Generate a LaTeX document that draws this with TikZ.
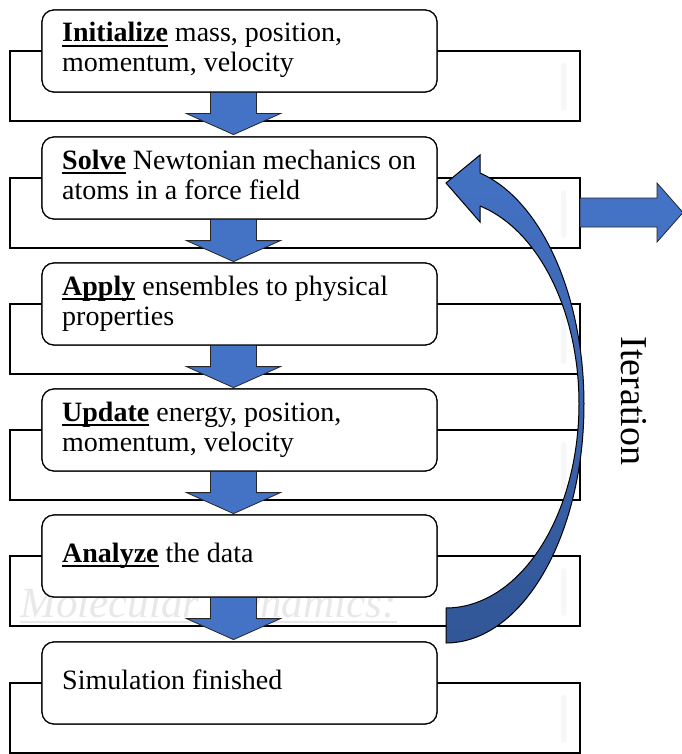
\documentclass[tikz,border=0pt]{standalone}
\usepackage{fontspec}
\setmainfont{Liberation Serif}
\newfontfamily\stepfont{Liberation Serif}
\definecolor{mdblue}{RGB}{68,114,196}
\definecolor{mddark}{RGB}{50,86,150}
\newcommand\ulword[1]{\setbox0\hbox{#1}\rlap{\rule[-5pt]{\wd0}{1.8pt}}\box0\relax}
\begin{document}
\begin{tikzpicture}[x=1pt,y=-1pt,
  backrect/.style={draw=black, line width=1.8pt, fill=white, minimum width=570pt, minimum height=70pt, inner sep=0pt, outer sep=0pt},
  stepbox/.style={draw=black, line width=1.2pt, fill=white, rounded corners=12pt, minimum width=395pt, minimum height=82pt, inner sep=0pt},
  steptext/.style={anchor=west, inner sep=0pt, align=left, font=\stepfont\fontsize{28}{30}\selectfont},
  faintbar/.style={fill=black!3, draw=none, rounded corners=2.5pt},
  flowarrow/.style={draw=black!85, line width=0.8pt, fill=mdblue, line join=miter},
  downarr/.pic={\path[flowarrow] (-23,-3) -- (-23,21) -- (-47,21) -- (0,42) -- (47,21) -- (23,21) -- (23,-3) -- cycle;}
]
\useasboundingbox (0,0) rectangle (681,754);
\fill[white] (0,0) rectangle (681,754);

% back rectangles
\node[backrect] (r1) at (295,86)  {};
\node[backrect] (r2) at (295,213) {};
\node[backrect] (r3) at (295,339) {};
\node[backrect] (r4) at (295,465) {};
\node[backrect] (r5) at (295,591) {};
\node[backrect] (r6) at (295,718) {};

% faint bars
\foreach \t in {10,137,263,389,515,642}{
  \path[faintbar] (561,\t+53) rectangle (566,\t+101);
}

% watermark
\node[anchor=base west, inner sep=0pt, font=\stepfont\itshape\fontsize{43}{45}\selectfont, text=black!9] (wm) at (20,617) {Molecular Dynamics:};
\draw[black!9, line width=1.4pt] ([yshift=-5pt]wm.base west) -- ([yshift=-5pt]wm.base east);

% step boxes
\node[stepbox] (b1) at (239.5,51)  {};
\node[stepbox] (b2) at (239.5,178) {};
\node[stepbox] (b3) at (239.5,304) {};
\node[stepbox] (b4) at (239.5,430) {};
\node[stepbox] (b5) at (239.5,556) {};
\node[stepbox] (b6) at (239.5,683) {};

% down arrows between boxes
\pic at ([xshift=-6pt]b1.south) {downarr};
\pic at ([xshift=-6pt]b2.south) {downarr};
\pic at ([xshift=-6pt]b3.south) {downarr};
\pic at ([xshift=-6pt]b4.south) {downarr};
\pic at ([xshift=-6pt]b5.south) {downarr};

% redraw boxes on top of arrow shafts
\node[stepbox] at (b1) {};
\node[stepbox] at (b2) {};
\node[stepbox] at (b3) {};
\node[stepbox] at (b4) {};
\node[stepbox] at (b5) {};
\node[stepbox] at (b6) {};

% texts
\node[steptext] (t1) at (62,51)  {\strut\ulword{\textbf{Initialize}} mass, position,\\\strut momentum, velocity};
\node[steptext] (t2) at (62,178) {\strut\ulword{\textbf{Solve}} Newtonian mechanics on\\\strut atoms in a force field};
\node[steptext] (t3) at (62,304) {\strut\ulword{\textbf{Apply}} ensembles to physical\\\strut properties};
\node[steptext] (t4) at (62,430) {\strut\ulword{\textbf{Update}} energy, position,\\\strut momentum, velocity};
\node[steptext] (t5) at (62,556) {\strut\ulword{\textbf{Analyze}} the data};
\node[steptext] (t6) at (62,683) {\strut Simulation finished};

% curved iteration arrow
\shadedraw[top color=mdblue, bottom color=mddark, draw=black, line width=1pt, line join=miter]
  plot[domain=90:-75.7, samples=80] ({446+138*cos(\x)},{404.3+238.7*sin(\x)})
  -- (480,155) -- (446,183) -- (480,222) -- (480,206)
  -- plot[domain=-75.2:90, samples=80] ({446+133*cos(\x)},{403.6+204.4*sin(\x)})
  -- cycle;

% right arrow out of r2
\coordinate (outtip) at (683,212.5);
\path[flowarrow] (580,198) -- (657,198) -- (657,183) -- (outtip) -- (657,242) -- (657,227) -- (580,227) -- cycle;

% iteration label
\node[rotate=-90, anchor=base, inner sep=0pt, font=\stepfont\fontsize{38}{40}\selectfont] (iter) at (621,401) {Iteration};
\end{tikzpicture}
\end{document}
